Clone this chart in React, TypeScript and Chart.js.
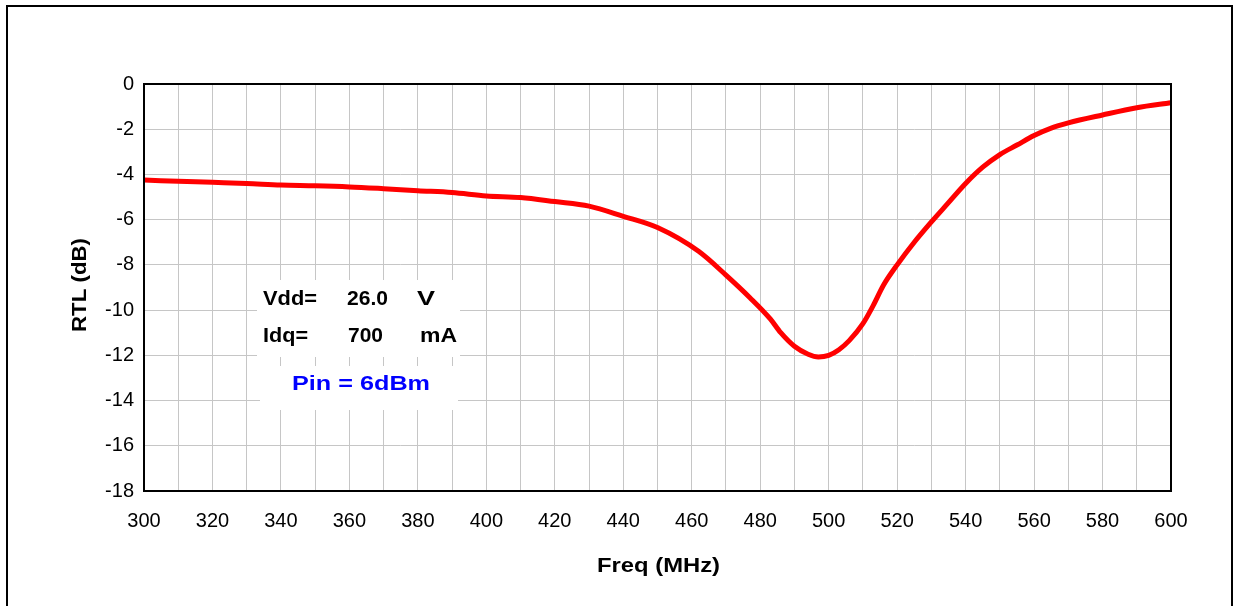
import React, { useEffect, useRef } from "react";
import { Chart, registerables } from "chart.js";

Chart.register(...registerables);

const freqMHz = [300, 310, 320, 330, 340, 350, 360, 370, 380, 390, 400, 410, 420, 430, 440, 450, 462, 470, 477, 483, 486, 490, 494, 497, 500, 503, 506, 510, 513, 516, 520, 525, 530, 535, 540, 545, 550, 555, 560, 565, 570, 580, 590, 600];
const rtlDb = [-4.25, -4.3, -4.35, -4.4, -4.47, -4.5, -4.55, -4.63, -4.72, -4.8, -4.95, -5.02, -5.2, -5.4, -5.85, -6.35, -7.4, -8.45, -9.45, -10.4, -11.0, -11.6, -11.95, -12.07, -12.0, -11.75, -11.35, -10.6, -9.8, -8.9, -8.0, -7.0, -6.1, -5.25, -4.4, -3.68, -3.12, -2.7, -2.28, -1.95, -1.72, -1.37, -1.05, -0.83];

const xTitle = "Freq (MHz)";
const yTitle = "RTL (dB)";
const noteRow1 = ["Vdd=", "26.0", "V"];
const noteRow2 = ["Idq=", "700", "mA"];
const noteLine3 = "Pin = 6dBm";

const FONT = "'Liberation Sans', Arial, sans-serif";

function fitText(ctx: CanvasRenderingContext2D, text: string, x: number, y: number, w: number, font: string, color: string, rot = 0) {
  ctx.save();
  ctx.font = font;
  ctx.fillStyle = color;
  ctx.textAlign = "left";
  ctx.textBaseline = "alphabetic";
  const m = ctx.measureText(text).width;
  const s = w / m;
  ctx.translate(x, y);
  if (rot) ctx.rotate(rot);
  ctx.scale(s, 1);
  ctx.fillText(text, 0, 0);
  ctx.restore();
}

const decorPlugin = {
  id: "decor",
  beforeDatasetsDraw(chart: any) {
    const ctx = chart.ctx as CanvasRenderingContext2D;
    ctx.save();
    ctx.fillStyle = "#ffffff";
    ctx.fillRect(257, 280, 203, 77);
    ctx.fillRect(260, 366, 198, 44);
    ctx.restore();
    const bf = `bold 21px ${FONT}`;
    fitText(ctx, noteRow1[0], 263, 305, 54, bf, "#000");
    fitText(ctx, noteRow1[1], 347, 305, 41, bf, "#000");
    fitText(ctx, noteRow1[2], 417, 305, 18, bf, "#000");
    fitText(ctx, noteRow2[0], 263, 342, 45, bf, "#000");
    fitText(ctx, noteRow2[1], 348, 342, 35, bf, "#000");
    fitText(ctx, noteRow2[2], 420, 342, 37, bf, "#000");
    fitText(ctx, noteLine3, 292, 390, 138, bf, "#0000ff");
  },
  afterDraw(chart: any) {
    const ctx = chart.ctx as CanvasRenderingContext2D;
    const a = chart.chartArea;
    ctx.save();
    ctx.strokeStyle = "#000";
    ctx.lineWidth = 2;
    ctx.strokeRect(a.left, a.top, a.right - a.left, a.bottom - a.top);
    ctx.strokeRect(7, 6, 1225, 700);
    ctx.restore();
    const bf = `bold 21px ${FONT}`;
    fitText(ctx, xTitle, 597, 572, 123, bf, "#000");
    fitText(ctx, yTitle, 86, 332, 94, bf, "#000", -Math.PI / 2);
  },
};

export default function App() {
  const ref = useRef<HTMLCanvasElement | null>(null);
  useEffect(() => {
    if (!ref.current) return;
    const chart = new Chart(ref.current, {
      type: "line",
      data: {
        datasets: [
          {
            data: freqMHz.map((f, i) => ({ x: f, y: rtlDb[i] })),
            borderColor: "#ff0000",
            borderWidth: 5,
            pointRadius: 0,
            cubicInterpolationMode: "monotone",
            fill: false,
          },
        ],
      },
      options: {
        responsive: false,
        animation: false,
        layout: { padding: { left: 0, top: 84, right: 65, bottom: 0 } },
        plugins: { legend: { display: false }, tooltip: { enabled: false } },
        scales: {
          x: {
            type: "linear",
            min: 300,
            max: 600,
            afterFit: (s: any) => { s.height = 115; },
            ticks: {
              stepSize: 10,
              autoSkip: false,
              maxRotation: 0,
              padding: 18,
              color: "#000",
              font: { family: FONT, size: 20 },
              callback: (v: any) => (Number(v) % 20 === 0 ? String(v) : ""),
            },
            grid: { color: "#c6c6c6", lineWidth: 1, drawTicks: false, tickLength: 0 },
            border: { display: false },
          },
          y: {
            min: -18,
            max: 0,
            afterFit: (s: any) => { s.width = 144; },
            ticks: {
              stepSize: 2,
              padding: 10,
              color: "#000",
              font: { family: FONT, size: 20 },
              callback: (v: any) => String(v),
            },
            grid: { color: "#c6c6c6", lineWidth: 1, drawTicks: false, tickLength: 0 },
            border: { display: false },
          },
        },
      },
      plugins: [decorPlugin],
    } as any);
    return () => chart.destroy();
  }, []);
  return (
    <div style={{ position: "absolute", left: 0, top: 0, width: 1236, height: 606, background: "#fff" }}>
      <canvas ref={ref} width={1236} height={606} style={{ display: "block" }} />
    </div>
  );
}
